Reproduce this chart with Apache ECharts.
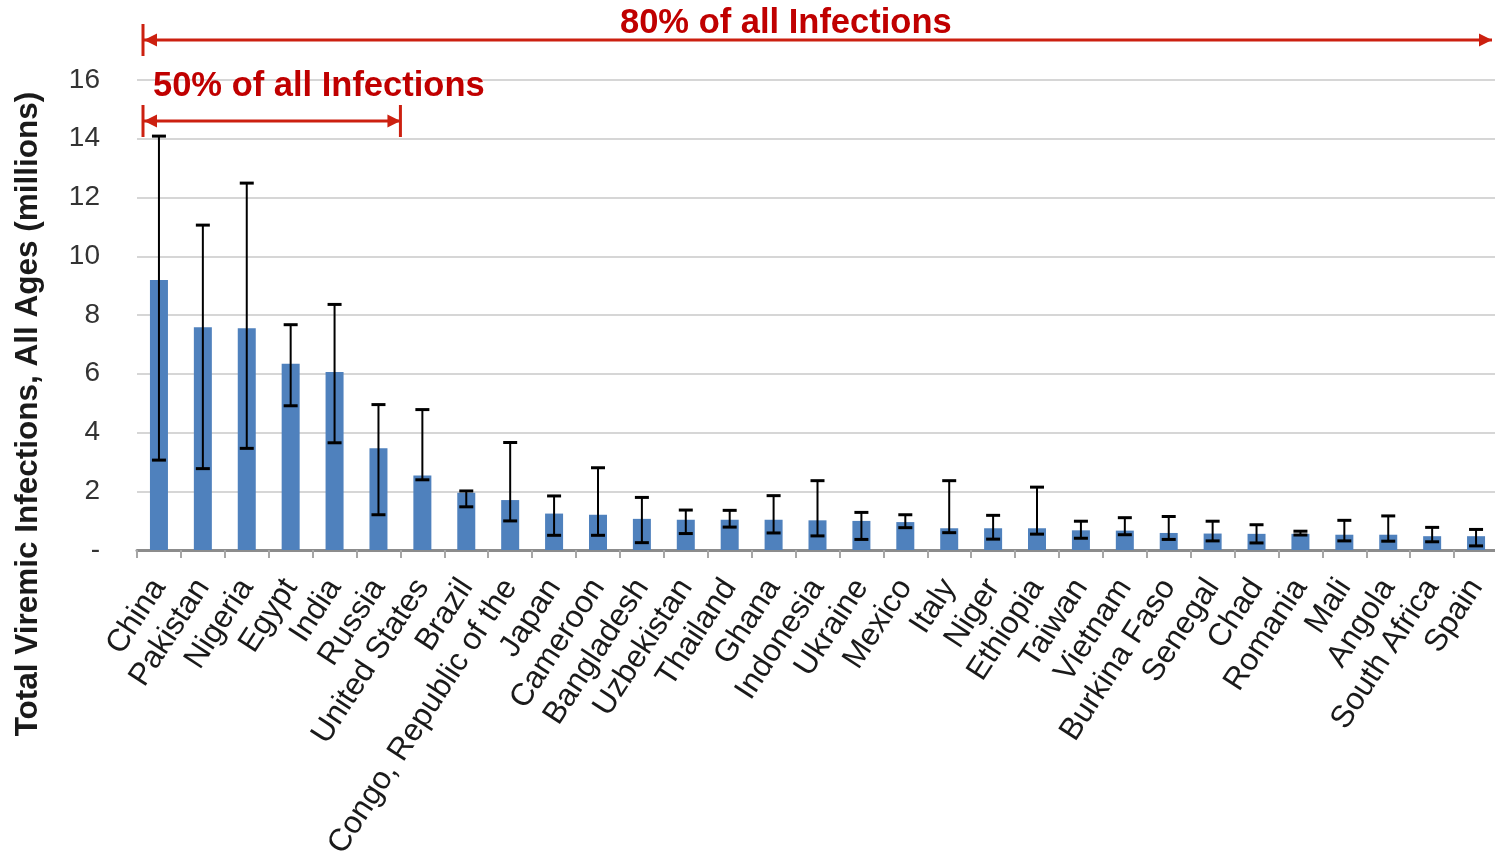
<!DOCTYPE html>
<html>
<head>
<meta charset="utf-8">
<title>Total Viremic Infections by Country</title>
<script src="https://cdn.jsdelivr.net/npm/echarts@6/dist/echarts.min.js"></script>
<style>
  html, body { margin: 0; padding: 0; background: #fff; }
  #chart { width: 1495px; height: 858px; }
</style>
</head>
<body>
<div id="chart"></div>
<script>
// Countries ranked by estimated viremic infections (millions), all ages
const countries = ['China', 'Pakistan', 'Nigeria', 'Egypt', 'India', 'Russia', 'United States', 'Brazil',
  'Congo, Republic of the', 'Japan', 'Cameroon', 'Bangladesh', 'Uzbekistan', 'Thailand', 'Ghana',
  'Indonesia', 'Ukraine', 'Mexico', 'Italy', 'Niger', 'Ethiopia', 'Taiwan', 'Vietnam', 'Burkina Faso',
  'Senegal', 'Chad', 'Romania', 'Mali', 'Angola', 'South Africa', 'Spain'];

// Central estimate
const infections = [9.19, 7.58, 7.55, 6.34, 6.06, 3.46, 2.54, 1.95, 1.70, 1.24, 1.20, 1.06, 1.03, 1.03, 1.03,
  1.01, 0.99, 0.95, 0.74, 0.74, 0.74, 0.67, 0.66, 0.58, 0.56, 0.55, 0.55, 0.52, 0.52, 0.47, 0.47];

// Uncertainty range (upper / lower bound)
const upperBound = [14.09, 11.06, 12.49, 7.67, 8.36, 4.95, 4.78, 2.01, 3.66, 1.84, 2.80, 1.79, 1.36, 1.35, 1.85,
  2.36, 1.28, 1.20, 2.36, 1.18, 2.14, 0.98, 1.10, 1.14, 0.98, 0.86, 0.64, 1.01, 1.16, 0.77, 0.70];
const lowerBound = [3.06, 2.77, 3.46, 4.91, 3.65, 1.20, 2.39, 1.47, 0.99, 0.50, 0.50, 0.25, 0.56, 0.78, 0.58,
  0.48, 0.36, 0.76, 0.59, 0.37, 0.54, 0.40, 0.52, 0.36, 0.31, 0.24, 0.51, 0.31, 0.30, 0.28, 0.14];

// Y axis ticks
const yTicks = [0, 2, 4, 6, 8, 10, 12, 14, 16];

// Share-of-infections brackets: label and number of leading countries covered
const brackets = [
  { label: '80% of all Infections', count: 31 },
  { label: '50% of all Infections', count: 6 }
];

const RED_TEXT = '#C00000';
const RED_LINE = '#CC2010';
const FONT = 'Arial, "Liberation Sans", sans-serif';

const chart = echarts.init(document.getElementById('chart'));

const errorData = countries.map((c, i) => [i, lowerBound[i], upperBound[i]]);

chart.setOption({
  animation: false,
  backgroundColor: '#ffffff',
  grid: { left: 137, right: -3, top: 80, bottom: 308, containLabel: false, outerBoundsMode: 'none' },
  xAxis: {
    type: 'category',
    data: countries,
    boundaryGap: true,
    axisLine: { show: true, lineStyle: { color: '#8c8c8c', width: 3 } },
    axisTick: { show: true, alignWithLabel: false, length: 8, lineStyle: { color: '#a6a6a6', width: 2 } },
    axisLabel: {
      interval: 0,
      rotate: 57,
      margin: 32,
      fontFamily: FONT,
      fontSize: 31.5,
      color: '#1a1a1a'
    },
    splitLine: { show: false }
  },
  yAxis: {
    type: 'value',
    min: yTicks[0],
    max: yTicks[yTicks.length - 1],
    interval: 2,
    axisLine: { show: false },
    axisTick: { show: false },
    axisLabel: {
      margin: 37,
      fontFamily: FONT,
      fontSize: 28,
      color: '#333333',
      formatter: v => (v === 0 ? '-' : String(v))
    },
    splitLine: { show: true, lineStyle: { color: '#d6d6d6', width: 2 } }
  },
  series: [
    {
      type: 'bar',
      data: infections,
      barWidth: 18,
      itemStyle: { color: '#4F81BD' },
      z: 2
    },
    {
      type: 'custom',
      data: errorData,
      z: 3,
      renderItem: function (params, api) {
        const i = api.value(0);
        const lo = api.coord([i, api.value(1)]);
        const hi = api.coord([i, api.value(2)]);
        const half = 7;
        const style = { stroke: '#000000', lineWidth: 2 };
        const capStyle = { stroke: '#000000', lineWidth: 3 };
        return {
          type: 'group',
          children: [
            { type: 'line', shape: { x1: hi[0], y1: hi[1], x2: lo[0], y2: lo[1] }, style: style },
            { type: 'line', shape: { x1: hi[0] - half, y1: hi[1], x2: hi[0] + half, y2: hi[1] }, style: capStyle },
            { type: 'line', shape: { x1: lo[0] - half, y1: lo[1], x2: lo[0] + half, y2: lo[1] }, style: capStyle }
          ]
        };
      }
    }
  ]
});

// Bracket arrows spanning the leading countries, placed from the category axis
function bandEdges(count) {
  const p0 = chart.convertToPixel({ xAxisIndex: 0 }, countries[0]);
  const p1 = chart.convertToPixel({ xAxisIndex: 0 }, countries[1]);
  const band = p1 - p0;
  const pl = chart.convertToPixel({ xAxisIndex: 0 }, countries[count - 1]);
  return [p0 - band / 2 + 6, pl + band / 2];
}

function bracket(x0, x1, y, endBars, rightInset) {
  const head = 13, hh = 6.5;
  const xr = x1 - rightInset;
  const els = [
    { type: 'line', shape: { x1: x0, y1: y, x2: xr, y2: y }, style: { stroke: RED_LINE, lineWidth: 3 } },
    { type: 'polygon', shape: { points: [[x0 + 1, y], [x0 + 1 + head, y - hh], [x0 + 1 + head, y + hh]] }, style: { fill: RED_LINE } },
    { type: 'polygon', shape: { points: [[xr, y], [xr - head, y - hh], [xr - head, y + hh]] }, style: { fill: RED_LINE } }
  ];
  endBars.forEach(function (xb) {
    els.push({ type: 'line', shape: { x1: xb, y1: y - 16, x2: xb, y2: y + 16 }, style: { stroke: RED_LINE, lineWidth: 3 } });
  });
  return els;
}

const e80 = bandEdges(brackets[0].count);
const e50 = bandEdges(brackets[1].count);

const graphics = []
  .concat(bracket(e80[0], e80[1], 40, [e80[0]], 6))
  .concat(bracket(e50[0], e50[1], 121, [e50[0], e50[1]], 0));

graphics.push({
  type: 'text',
  x: 620, y: 23,
  style: { text: brackets[0].label, fill: RED_TEXT, font: 'bold 34.5px ' + FONT, textAlign: 'left', textVerticalAlign: 'middle' }
});
graphics.push({
  type: 'text',
  x: 153, y: 86,
  style: { text: brackets[1].label, fill: RED_TEXT, font: 'bold 34.5px ' + FONT, textAlign: 'left', textVerticalAlign: 'middle' }
});
graphics.push({
  type: 'text',
  x: 28, y: 414,
  rotation: Math.PI / 2,
  style: { text: 'Total Viremic Infections, All Ages (millions)', fill: '#1a1a1a', font: 'bold 31.5px ' + FONT, textAlign: 'center', textVerticalAlign: 'middle' }
});

chart.setOption({ graphic: graphics });
</script>
</body>
</html>
